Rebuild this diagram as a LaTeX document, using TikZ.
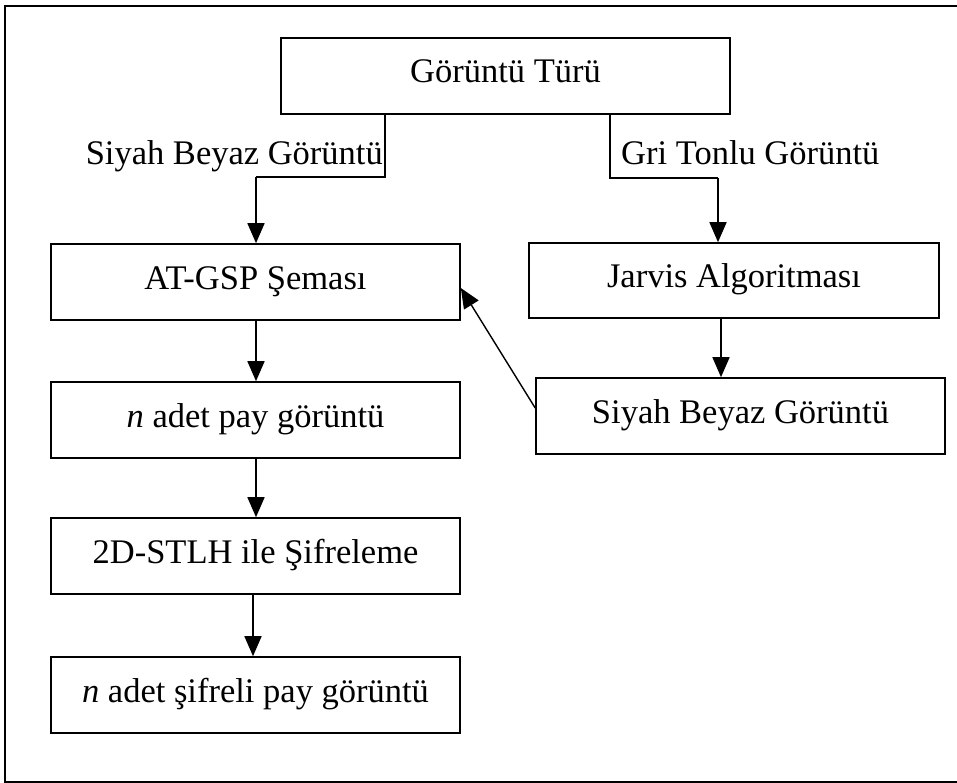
\documentclass[tikz,border=0pt]{standalone}
\usepackage{fontspec}
\setmainfont{Liberation Serif}
\usetikzlibrary{arrows.meta,calc}

\begin{document}
\begin{tikzpicture}[x=1pt,y=-1pt,
  every node/.style={font=\fontsize{34.5}{40}\selectfont, text height=24pt, text depth=10pt, inner sep=0pt},
  stepbox/.style={draw, line width=1.6pt, minimum width=409pt, minimum height=76pt},
  flow/.style={line width=1.6pt, -{Triangle[width=17pt,length=20pt]}},
  link/.style={line width=1.6pt}]
  \useasboundingbox (0,0) rectangle (957,783);

  % outer frame (open on the right)
  \draw[line width=2pt] (970,6) -- (5,6) -- (5,782) -- (970,782);

  % boxes
  \node[stepbox, minimum width=449pt] (top) at (505.5,76) {Görüntü Türü};
  \node[stepbox] (atgsp) at (255.5,282) {AT-GSP Şeması};
  \node[stepbox] (npay) at (255.5,420) {\textit{n} adet pay görüntü};
  \node[stepbox] (stlh) at (255.5,556) {2D-STLH ile Şifreleme};
  \node[stepbox] (nsif) at (255.5,695) {\textit{n} adet şifreli pay görüntü};
  \node[stepbox, minimum width=410pt, minimum height=75pt] (jarvis) at (734,280.5) {Jarvis Algoritması};
  \node[stepbox] (sbw) at (740.5,416) {Siyah Beyaz Görüntü};

  % branch labels
  \node[anchor=base east] (lblL) at (383,165) {Siyah Beyaz Görüntü};
  \node[anchor=base west] (lblR) at (621,165) {Gri Tonlu Görüntü};

  % branch connectors
  \coordinate (lb) at (385,177);
  \coordinate (la) at (256,177);
  \coordinate (rb) at (610,178);
  \coordinate (ra) at (718,178);
  \draw[link] (top.south -| lb) -- (lb) -- (la);
  \draw[flow] (la) -- (la |- atgsp.north);
  \draw[link] (top.south -| rb) -- (rb) -- (ra);
  \draw[flow] (ra) -- (ra |- jarvis.north);

  % chain connectors
  \coordinate (jx) at (721,0);
  \draw[flow] (jarvis.south -| jx) -- (sbw.north -| jx);
  \coordinate (cx) at (256,0);
  \coordinate (cy) at (253,0);
  \draw[flow] (atgsp.south -| cx) -- (npay.north -| cx);
  \draw[flow] (npay.south -| cx) -- (stlh.north -| cx);
  \draw[flow] (stlh.south -| cy) -- (nsif.north -| cy);

  % feedback to the scheme
  \draw[flow, line width=1.4pt] ($(sbw.west)+(0,-8)$) -- ($(atgsp.east)+(0,6)$);
\end{tikzpicture}
\end{document}
